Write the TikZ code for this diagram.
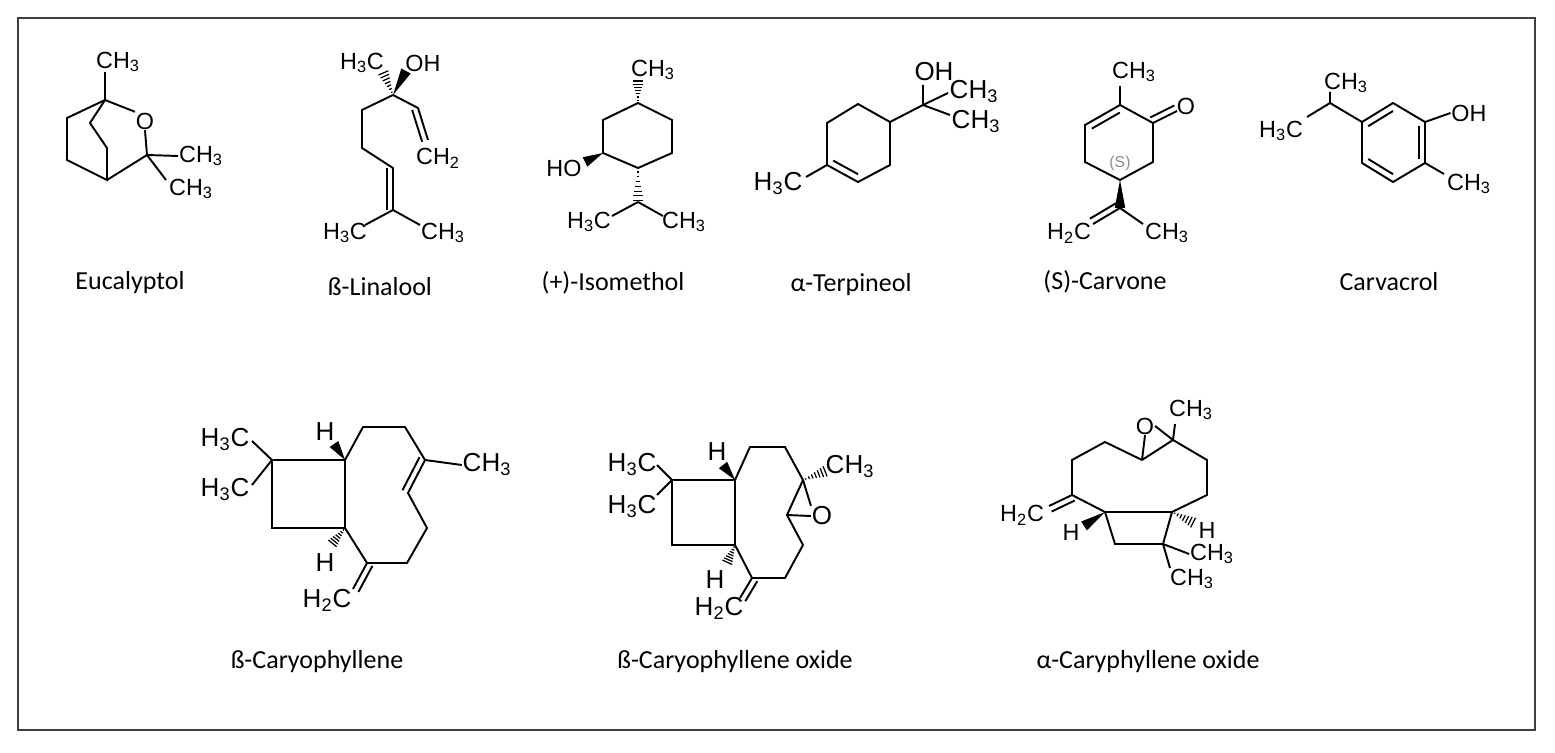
\documentclass[tikz,border=0pt]{standalone}
\usepackage{fontspec}
\setmainfont{Liberation Sans}
\newfontfamily\capf{Carlito}
\usetikzlibrary{calc}
\newcommand\wdg[2]{\fill (#1) -- ($(#2)!3pt!90:(#1)$) -- ($(#2)!3pt!-90:(#1)$) -- cycle;}
\newcommand\hsh[2]{\foreach \t in {0.12,0.26,...,1.0}{\pgfmathsetmacro\w{\t*3.2}\coordinate (hp) at ($(#1)!\t!(#2)$);\draw[line width=0.7pt] ($(hp)!\w pt!90:(#2)$) -- ($(hp)!\w pt!-90:(#2)$);}}
\newcommand\inn[3]{\draw ($(#1)!0.2!(#3)$) -- ($(#2)!0.2!(#3)$);}
\newcommand\dbo[2]{\draw ($(#1)!3.5pt!90:(#2)$) -- ($(#2)!3.5pt!-90:(#1)$);}
\newcommand\sbs[1]{\textsubscript{#1}}
\begin{document}
\begin{tikzpicture}[x=0.02cm,y=-0.02cm,line width=1.1pt,
  lab/.style={inner sep=0pt,font=\fontsize{13.3}{15}\selectfont},
  labb/.style={inner sep=0pt,font=\fontsize{14.8}{16}\selectfont},
  captxt/.style={inner sep=0pt,font=\capf\fontsize{14.8}{17}\selectfont}]
\useasboundingbox (0,0) rectangle (1555,753);
\fill[white] (0,0) rectangle (1555,753);
\draw[line width=0.8pt,black!75] (18,18) rectangle (1535,730);
% captions
\node[captxt] (c1) at (130,283) {Eucalyptol};
\node[captxt] (c2) at (380,287) {ß-Linalool};
\node[captxt] (c3) at (613,283) {(+)-Isomethol};
\node[captxt] (c4) at (851,285) {α-Terpineol};
\node[captxt] (c5) at (1105,282) {(S)-Carvone};
\node[captxt] (c6) at (1389,282) {Carvacrol};
\node[captxt] (c7) at (317,662) {ß-Caryophyllene};
\node[captxt] (c8) at (735,662) {ß-Caryophyllene oxide};
\node[captxt] (c9) at (1148,662) {α-Caryphyllene oxide};
% ---------- Eucalyptol
\coordinate (e1) at (105,100); \coordinate (e2) at (67,118); \coordinate (e3) at (67,160);
\coordinate (e4) at (107,180); \coordinate (e5) at (90,123); \coordinate (e6) at (107,148);
\coordinate (e7) at (147,155);
\node[lab] (eO) at (145,121) {O};
\node[lab] (eM1) at (118,62) {CH\sbs3};
\node[lab] (eM2) at (201,156) {CH\sbs3};
\node[lab] (eM3) at (191,189) {CH\sbs3};
\draw (e1)--(e2)--(e3)--(e4)--(e6)--(e5)--(e1);
\draw (e1)--(eO.north west); \draw (eO.south)--(e7); \draw (e4)--(e7);
\draw (e1)--(105,72); \draw (e7)--(eM2.west); \draw (e7)--(166,180);
% ---------- Linalool
\coordinate (l3) at (393,95); \coordinate (l2) at (418,108); \coordinate (l1) at (428,140);
\coordinate (l4) at (362,110); \coordinate (l5) at (362,148); \coordinate (l6) at (393,168);
\coordinate (l7) at (393,210); \coordinate (la) at (365,225); \coordinate (lb) at (420,225);
\node[lab] (lM) at (362,63) {H\sbs3C};
\node[lab] (lOH) at (423,63) {OH};
\node[lab] (lCH2) at (438,158) {CH\sbs2};
\node[lab] (lM2) at (345,233) {H\sbs3C};
\node[lab] (lM3) at (443,233) {CH\sbs3};
\hsh{l3}{383,72} \wdg{l3}{406,71}
\draw (l3)--(l2)--(l1); \dbo{l1}{l2}
\draw (l3)--(l4)--(l5)--(l6)--(l7); \dbo{l7}{l6}
\draw (l7)--(la); \draw (l7)--(lb);
% ---------- Isomenthol
\coordinate (i1) at (638,103); \coordinate (i2) at (672,120); \coordinate (i3) at (672,153);
\coordinate (i4) at (638,168); \coordinate (i5) at (603,153); \coordinate (i6) at (603,120);
\coordinate (i7) at (638,202);
\node[lab] (iM) at (653,70) {CH\sbs3};
\node[lab] (iHO) at (564,168) {HO};
\node[lab] (iM2) at (589,222) {H\sbs3C};
\node[lab] (iM3) at (684,222) {CH\sbs3};
\draw (i1)--(i2)--(i3)--(i4)--(i5)--(i6)--cycle;
\hsh{i1}{638,80} \wdg{i5}{585,162} \hsh{i4}{i7}
\draw (i7)--(612,216); \draw (i7)--(663,216);
% ---------- Terpineol
\coordinate (t1) at (890,122); \coordinate (t2) at (858,104); \coordinate (t3) at (827,123);
\coordinate (t4) at (827,165); \coordinate (t5) at (858,182); \coordinate (t6) at (890,165);
\coordinate (tc) at (858,143); \coordinate (tq) at (923,105);
\node[labb] (tOH) at (934,72) {OH};
\node[labb] (tM1) at (974,92) {CH\sbs3};
\node[labb] (tM2) at (976,122) {CH\sbs3};
\node[labb] (tM3) at (778,184) {H\sbs3C};
\draw (t1)--(t2)--(t3)--(t4)--(t5)--(t6)--cycle; \inn{t4}{t5}{tc}
\draw (t1)--(tq)--(923,85); \draw (tq)--(948,93); \draw (tq)--(950,115);
\draw (t4)--(806,177);
% ---------- Carvone
\coordinate (v2) at (1120,105); \coordinate (v1) at (1153,123); \coordinate (v6) at (1153,162);
\coordinate (v5) at (1120,180); \coordinate (v4) at (1085,162); \coordinate (v3) at (1085,125);
\coordinate (vc) at (1119,143); \coordinate (vi) at (1120,208);
\node[lab] (vM) at (1134,72) {CH\sbs3};
\node[lab] (vO) at (1186,106) {O};
\node[lab,text=black!45,font=\fontsize{9}{10}\selectfont] (vS) at (1120,163) {(S)};
\node[lab] (vM2) at (1069,233) {H\sbs2C};
\node[lab] (vM3) at (1167,233) {CH\sbs3};
\draw (v1)--(v2)--(v3)--(v4)--(v5)--(v6)--cycle; \inn{v2}{v3}{vc}
\draw (v2)--(1120,86); \draw (v1)--(1177,111); \dbo{v1}{1177,111}
\wdg{v5}{vi}
\draw (vi)--(1093,224); \dbo{1093,224}{vi} \draw (vi)--(1143,224);
% ---------- Carvacrol
\coordinate (a1) at (1393,103); \coordinate (a2) at (1425,122); \coordinate (a3) at (1425,163);
\coordinate (a4) at (1393,182); \coordinate (a5) at (1362,163); \coordinate (a6) at (1362,122);
\coordinate (ac) at (1393,143); \coordinate (ap) at (1330,103);
\node[lab] (aM1) at (1346,83) {CH\sbs3};
\node[lab] (aM2) at (1281,131) {H\sbs3C};
\node[lab] (aOH) at (1469,113) {OH};
\node[lab] (aM3) at (1469,184) {CH\sbs3};
\draw (a1)--(a2)--(a3)--(a4)--(a5)--(a6)--cycle;
\inn{a6}{a1}{ac} \inn{a2}{a3}{ac} \inn{a4}{a5}{ac}
\draw (a6)--(ap)--(1330,92); \draw (ap)--(1307,117);
\draw (a2)--(aOH.west); \draw (a3)--(1444,174);
% ---------- beta-Caryophyllene
\coordinate (b1) at (272,460); \coordinate (b2) at (345,460); \coordinate (b3) at (345,528); \coordinate (b4) at (272,528);
\coordinate (b5) at (363,427); \coordinate (b6) at (405,427); \coordinate (b7) at (425,460);
\coordinate (b8) at (408,493); \coordinate (b9) at (427,528); \coordinate (b10) at (407,563); \coordinate (b11) at (367,563);
\node[labb] (bM1) at (225,440) {H\sbs3C};
\node[labb] (bM2) at (225,490) {H\sbs3C};
\node[labb] (bH1) at (325,432) {H};
\node[labb] (bH2) at (325,563) {H};
\node[labb] (bM3) at (487,465) {CH\sbs3};
\node[labb] (bCH2) at (327,600) {H\sbs2C};
\draw (b1)--(b2)--(b3)--(b4)--cycle;
\draw (b1)--(252,441); \draw (b1)--(252,485);
\wdg{b2}{334,444} \hsh{b3}{332,544}
\draw (b2)--(b5)--(b6)--(b7)--(b8)--(b9)--(b10)--(b11)--(b3);
\dbo{b8}{b7} \draw (b7)--(bM3.west);
\draw (b11)--(353,589); \dbo{b11}{353,589}
% ---------- beta-Caryophyllene oxide
\coordinate (o1) at (672,480); \coordinate (o2) at (735,480); \coordinate (o3) at (735,545); \coordinate (o4) at (672,545);
\coordinate (o5) at (750,447); \coordinate (o6) at (785,447); \coordinate (o7) at (803,480);
\coordinate (o8) at (787,515); \coordinate (o9) at (803,545); \coordinate (o10) at (785,578); \coordinate (o11) at (752,578);
\node[labb] (oM1) at (632,465) {H\sbs3C};
\node[labb] (oM2) at (632,507) {H\sbs3C};
\node[labb] (oH1) at (717,452) {H};
\node[labb] (oH2) at (715,580) {H};
\node[labb] (oM3) at (850,467) {CH\sbs3};
\node[labb] (oO) at (822,516) {O};
\node[labb] (oCH2) at (719,608) {H\sbs2C};
\draw (o1)--(o2)--(o3)--(o4)--cycle;
\draw (o1)--(657,465); \draw (o1)--(657,495);
\wdg{o2}{723,465} \hsh{o3}{727,563}
\draw (o2)--(o5)--(o6)--(o7)--(o8)--(o9)--(o10)--(o11)--(o3);
\draw (o7)--(oO.north west); \draw (o8)--(oO.west);
\hsh{o7}{826,471}
\draw (o11)--(740,598); \dbo{o11}{740,598}
% ---------- alpha-Caryophyllene oxide
\coordinate (p1) at (1142,460); \coordinate (p2) at (1173,440); \coordinate (p3) at (1105,442);
\coordinate (p4) at (1072,460); \coordinate (p5) at (1072,495); \coordinate (p6) at (1105,512);
\coordinate (p7) at (1115,544); \coordinate (p8) at (1163,544); \coordinate (p9) at (1172,512);
\coordinate (p10) at (1207,495); \coordinate (p11) at (1207,460);
\node[lab] (pO) at (1145,426) {O};
\node[lab] (pM) at (1191,410) {CH\sbs3};
\node[lab] (pCH2) at (1022,515) {H\sbs2C};
\node[lab] (pH1) at (1071,532) {H};
\node[lab] (pH2) at (1207,530) {H};
\node[lab] (pM2) at (1212,554) {CH\sbs3};
\node[lab] (pM3) at (1192,579) {CH\sbs3};
\draw (p1)--(pO.south); \draw (p2)--(pO.east); \draw (p1)--(p2);
\draw (p2)--(1175,424);
\draw (p1)--(p3)--(p4)--(p5)--(p6)--(p7)--(p8)--(p9)--(p10)--(p11)--(p2);
\draw (p6)--(p9);
\draw (p5)--(1049,506); \dbo{p5}{1049,506}
\wdg{p6}{1084,526} \hsh{p9}{1194,523}
\draw (p8)--(pM2.west); \draw (p8)--(1170,568);
\end{tikzpicture}
\end{document}
